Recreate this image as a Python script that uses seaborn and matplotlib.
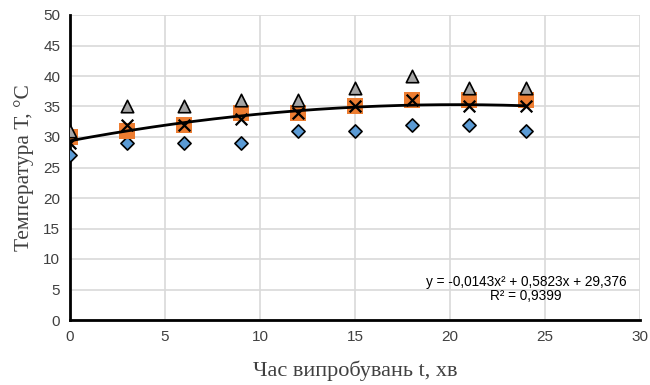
import numpy as np
import pandas as pd
import matplotlib
matplotlib.use("Agg")
import matplotlib.pyplot as plt
import seaborn as sns

time_min = [0, 3, 6, 9, 12, 15, 18, 21, 24]
series_blue = [27, 29, 29, 29, 31, 31, 32, 32, 31]
series_orange = [30, 31, 32, 34, 34, 35, 36, 36, 36]
series_gray = [31, 35, 35, 36, 36, 38, 40, 38, 38]
series_x = [29, 32, 32, 33, 34, 35, 36, 35, 35]
trend_coef = [-0.0143, 0.5823, 29.376]
x_ticks = [0, 5, 10, 15, 20, 25, 30]
y_ticks = [0, 5, 10, 15, 20, 25, 30, 35, 40, 45, 50]

sns.set_theme(style="white")
plt.rcParams['font.family'] = ['Liberation Sans', 'DejaVu Sans']

fig = plt.figure(figsize=(6.5, 3.85), dpi=100)
ax = fig.add_axes([70/650, 1-320/385, (640-70)/650, (320-15)/385])

df = pd.DataFrame({"t": time_min, "b": series_blue, "o": series_orange,
                   "g": series_gray, "x": series_x})

sns.scatterplot(data=df, x="t", y="b", marker="D", s=45, color="#5b9bd5",
                edgecolor="black", linewidth=1.2, ax=ax, zorder=3)
sns.scatterplot(data=df, x="t", y="o", marker="s", s=130, color="#ed7d31",
                edgecolor="#ed7d31", linewidth=0, ax=ax, zorder=4)
sns.scatterplot(data=df, x="t", y="g", marker="^", s=80, color="#a5a5a5",
                edgecolor="black", linewidth=1.2, ax=ax, zorder=5)
sns.scatterplot(data=df, x="t", y="x", marker="x", s=70, color="black",
                linewidth=1.6, ax=ax, zorder=6)

tt = np.linspace(0, 24, 200)
trend = pd.DataFrame({"t": tt, "y": np.polyval(trend_coef, tt)})
sns.lineplot(data=trend, x="t", y="y", color="black", linewidth=2, ax=ax, zorder=7)

ax.set_xlim(0, 30)
ax.set_ylim(0, 50)
ax.set_xticks(x_ticks)
ax.set_yticks(y_ticks)
ax.tick_params(axis='both', labelsize=11, colors="#404040", length=0, pad=7)
ax.grid(True, color="#d9d9d9", linewidth=1.2)
ax.set_axisbelow(True)
for side in ["top", "right"]:
    ax.spines[side].set_visible(False)
for side in ["left", "bottom"]:
    ax.spines[side].set_color("black")
    ax.spines[side].set_linewidth(2)

ax.set_xlabel("Час випробувань t, хв", family=["Liberation Serif", "DejaVu Serif"],
              fontsize=16, color="#404040", labelpad=12)
ax.set_ylabel("Температура Т, °С", family=["Liberation Serif", "DejaVu Serif"],
              fontsize=15.5, color="#404040", labelpad=7)

ax.text(24.0, 6.25, "y = -0,0143x² + 0,5823x + 29,376", ha="center", va="center",
        fontsize=9.8, color="black")
ax.text(24.0, 3.95, "R² = 0,9399", ha="center", va="center", fontsize=9.8, color="black")

fig.savefig("out.png", dpi=100)
